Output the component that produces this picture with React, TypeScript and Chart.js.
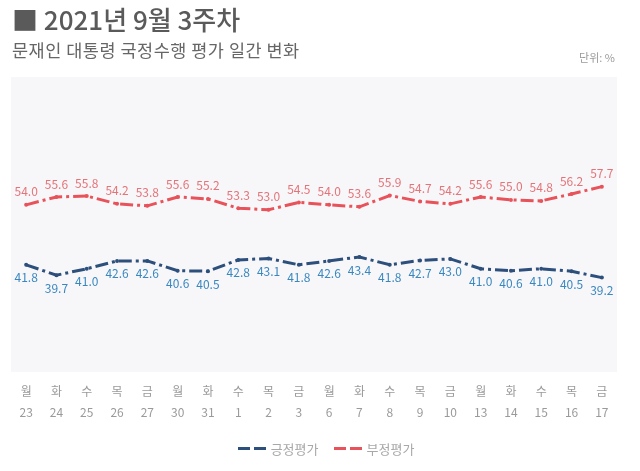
import React, { useEffect, useRef } from "react";
import { Chart, registerables } from "chart.js";

Chart.register(...registerables);

const days = ["월", "화", "수", "목", "금", "월", "화", "수", "목", "금", "월", "화", "수", "목", "금", "월", "화", "수", "목", "금"];
const dates = ["23", "24", "25", "26", "27", "30", "31", "1", "2", "3", "6", "7", "8", "9", "10", "13", "14", "15", "16", "17"];
const positive = [41.8, 39.7, 41.0, 42.6, 42.6, 40.6, 40.5, 42.8, 43.1, 41.8, 42.6, 43.4, 41.8, 42.7, 43.0, 41.0, 40.6, 41.0, 40.5, 39.2];
const negative = [54.0, 55.6, 55.8, 54.2, 53.8, 55.6, 55.2, 53.3, 53.0, 54.5, 54.0, 53.6, 55.9, 54.7, 54.2, 55.6, 55.0, 54.8, 56.2, 57.7];

const FONT = "'Noto Sans CJK KR', 'Noto Sans', sans-serif";
const BLUE = "#2c4f7c";
const RED = "#e8525a";
const BLUE_LABEL = "#3a87c0";
const RED_LABEL = "#e4747a";

const panelPlugin = {
  id: "panel",
  beforeDraw(chart: any) {
    const { ctx, chartArea } = chart;
    ctx.save();
    ctx.fillStyle = "#f7f7f9";
    ctx.fillRect(chartArea.left, chartArea.top, chartArea.right - chartArea.left, chartArea.bottom - chartArea.top);
    ctx.restore();
  },
};

const labelPlugin = {
  id: "valueLabels",
  afterDatasetsDraw(chart: any) {
    const { ctx } = chart;
    ctx.save();
    ctx.font = `12px ${FONT}`;
    ctx.textAlign = "center";
    ctx.textBaseline = "middle";
    chart.data.datasets.forEach((ds: any, i: number) => {
      const meta = chart.getDatasetMeta(i);
      const above = ds.labelPos === "above";
      ctx.fillStyle = ds.labelColor;
      meta.data.forEach((pt: any, j: number) => {
        const v = ds.data[j] as number;
        ctx.fillText(v.toFixed(1), pt.x, above ? pt.y - 13 : pt.y + 13);
      });
    });
    ctx.restore();
  },
};

function LegendSwatch({ color }: { color: string }) {
  return (
    <span style={{ display: "inline-flex", alignItems: "center", marginRight: 5 }}>
      <span style={{ display: "inline-block", width: 12, height: 3, background: color, marginRight: 4 }} />
      <span style={{ display: "inline-block", width: 12, height: 3, background: color }} />
    </span>
  );
}

export default function App() {
  const ref = useRef<HTMLCanvasElement>(null);

  useEffect(() => {
    if (!ref.current) return;
    const chart = new Chart(ref.current, {
      type: "line",
      data: {
        labels: days.map((d, i) => [d, dates[i]]),
        datasets: [
          {
            label: "긍정평가",
            data: positive,
            borderColor: BLUE,
            backgroundColor: BLUE,
            borderWidth: 3,
            borderDash: [13, 4, 3, 4],
            pointRadius: 2,
            pointBorderWidth: 0,
            pointBackgroundColor: BLUE,
            tension: 0,
            labelPos: "below",
            labelColor: BLUE_LABEL,
          } as any,
          {
            label: "부정평가",
            data: negative,
            borderColor: RED,
            backgroundColor: RED,
            borderWidth: 3,
            borderDash: [13, 4, 3, 4],
            pointRadius: 2,
            pointBorderWidth: 0,
            pointBackgroundColor: RED,
            tension: 0,
            labelPos: "above",
            labelColor: RED_LABEL,
          } as any,
        ],
      },
      options: {
        responsive: false,
        animation: false,
        devicePixelRatio: 1,
        layout: { padding: { left: 11, right: 23, top: 77, bottom: 39 } },
        plugins: {
          legend: { display: false },
          tooltip: { enabled: false },
          title: { display: false },
        },
        scales: {
          x: {
            offset: true,
            grid: { display: false, drawTicks: false },
            border: { display: false },
            ticks: {
              color: "#9a9a9a",
              font: { family: FONT, size: 12, lineHeight: 1.75 },
              padding: 9,
              maxRotation: 0,
              autoSkip: false,
            },
            afterFit(scale: any) {
              scale.height = 60;
            },
          },
          y: {
            display: false,
            min: 20,
            max: 80,
          },
        },
      },
      plugins: [panelPlugin, labelPlugin],
    });
    return () => chart.destroy();
  }, []);

  return (
    <div
      style={{
        position: "fixed",
        left: 0,
        top: 0,
        width: 640,
        height: 471,
        background: "#ffffff",
        fontFamily: FONT,
        overflow: "hidden",
      }}
    >
      <canvas ref={ref} width={640} height={471} style={{ position: "absolute", left: 0, top: 0, width: 640, height: 471 }} />
      <div style={{ position: "absolute", left: 12, top: 1, fontSize: 26, color: "#5a5a5a", fontWeight: 500, whiteSpace: "nowrap", lineHeight: "36px" }}>
        ■ 2021년 9월 3주차
      </div>
      <div style={{ position: "absolute", left: 12, top: 38, fontSize: 17.5, letterSpacing: 0.5, color: "#666666", whiteSpace: "nowrap", lineHeight: "24px" }}>
        문재인 대통령 국정수행 평가 일간 변화
      </div>
      <div style={{ position: "absolute", right: 25, top: 49, fontSize: 11, color: "#9a9a9a", whiteSpace: "nowrap", lineHeight: "16px" }}>
        단위: %
      </div>
      <div
        style={{
          position: "absolute",
          left: 11,
          width: 630,
          top: 439,
          height: 18,
          display: "flex",
          justifyContent: "center",
          alignItems: "center",
          fontSize: 13,
          color: "#a8a8a8",
          whiteSpace: "nowrap",
        }}
      >
        <LegendSwatch color={BLUE} />
        <span style={{ marginRight: 15 }}>긍정평가</span>
        <LegendSwatch color={RED} />
        <span>부정평가</span>
      </div>
    </div>
  );
}
